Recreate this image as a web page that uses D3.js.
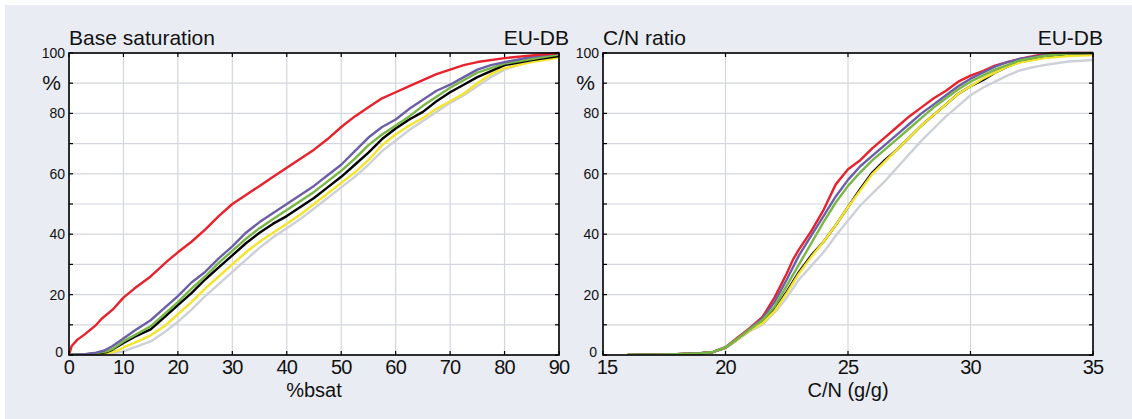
<!DOCTYPE html>
<html>
<head>
<meta charset="utf-8">
<script src="https://cdn.jsdelivr.net/npm/d3@7"></script>
<style>
  html, body { margin: 0; padding: 0; background: #ffffff; }
  svg { display: block; }
  text { font-family: "Liberation Sans", Arial, Helvetica, sans-serif; fill: #111; }
</style>
</head>
<body>
<svg id="chart" width="1132" height="419"></svg>
<script>
// Cumulative distributions (percent of sites below value), EU-DB

// --- Base saturation panel ---
const bsatXTicks = [0, 10, 20, 30, 40, 50, 60, 70, 80, 90];
const bsatRed = [[0,0],[0.5,3],[1.5,5],[3,7],[5,10],[6,12],[8,15],[10,19],[12,22],[15,26],[18,31],[20,34],[22.5,37.5],[25,41.5],[27.5,46],[30,50],[32.5,53],[35,56],[37.5,59],[40,62],[42.5,65],[45,68],[47.5,71.5],[50,75.5],[52.5,79],[55,82],[57.5,85],[60,87],[62.5,89],[65,91],[67.5,93],[70,94.5],[72.5,96],[75,97],[80,98.3],[85,99.2],[90,100]];
const bsatPurple = [[0,0],[3,0.3],[5,0.8],[6.5,1.5],[8,3],[10,5.5],[12,8],[15,11.5],[17.5,15.5],[20,19.5],[22.5,24],[25,27.5],[27.5,32],[30,36],[32.5,40.5],[35,44],[37.5,47],[40,50],[42.5,53],[45,56],[47.5,59.5],[50,63],[52.5,67.5],[55,72],[57.5,75.5],[60,78],[62.5,81.5],[65,84.5],[67.5,87.5],[70,89.5],[72.5,92],[75,94.5],[77.5,96],[80,97],[85,98.7],[90,100]];
const bsatGreen = [[0,0],[3,0.3],[5,0.6],[7,1.2],[8,2],[10,4.5],[12,6.5],[15,9.5],[17.5,13.5],[20,17.5],[22.5,22],[25,26],[27.5,30.5],[30,34.5],[32.5,38.5],[35,42],[37.5,45],[40,48],[42.5,51],[45,54],[47.5,57.5],[50,61],[52.5,65],[55,69.5],[57.5,73],[60,76],[62.5,79],[65,82.5],[67.5,85.5],[70,88.5],[72.5,91],[75,93.5],[77.5,95],[80,96.5],[85,98],[90,99.5]];
const bsatBlack = [[0,0],[3,0.2],[5,0.5],[7,1],[8,1.8],[10,4],[12,6],[15,8.5],[17.5,12.5],[20,16.5],[22.5,20.5],[25,25],[27.5,29],[30,33],[32.5,37],[35,40.5],[37.5,43.5],[40,46],[42.5,49],[45,52],[47.5,55.5],[50,59],[52.5,63],[55,67],[57.5,71.5],[60,75],[62.5,78],[65,80.5],[67.5,84],[70,87],[72.5,89.5],[75,92],[77.5,94],[80,96],[85,97.7],[90,99]];
const bsatYellow = [[0,0],[3,0.1],[5,0.3],[7,0.6],[9,1.5],[10,2.5],[12,4],[15,6.5],[17.5,9.5],[20,13.5],[22.5,17.5],[25,22],[27.5,26],[30,30],[32.5,34],[35,37.5],[37.5,40.5],[40,43.5],[42.5,46.5],[45,50],[47.5,53.5],[50,57],[52.5,60.5],[55,64.5],[57.5,69.5],[60,73],[62.5,76],[65,78.5],[67.5,81.5],[70,84],[72.5,86.5],[75,90],[77.5,93],[80,95],[85,97],[90,98.5]];
const bsatGray = [[0,0],[5,0.1],[8,0.5],[10,1.2],[12,2.5],[15,4.5],[17.5,7.5],[20,11],[22.5,15],[25,19.5],[27.5,23.5],[30,27.5],[32.5,31.5],[35,35.5],[37.5,39],[40,42],[42.5,45],[45,48.5],[47.5,52],[50,55.5],[52.5,59],[55,63],[57.5,67.5],[60,71],[62.5,74.5],[65,77.5],[67.5,80.5],[70,83.5],[72.5,86],[75,89],[77.5,92],[80,94.5],[85,97.5],[90,99]];

// --- C/N ratio panel ---
const cnXTicks = [15, 20, 25, 30, 35];
const cnRed = [[16,0],[17,0.1],[18,0.3],[19,0.6],[19.5,1],[20,2.6],[20.5,5.8],[21,9],[21.5,12.5],[22,19],[22.5,27],[22.75,31.5],[23,35],[23.5,41],[24,48],[24.5,56.5],[25,61.5],[25.5,64.5],[26,68.5],[26.5,72],[27,75.5],[27.5,79],[28,82],[28.5,85],[29,87.5],[29.5,90.5],[30,92.5],[30.5,94],[31,95.8],[31.5,97],[32,98],[32.6,99],[33.3,100],[35,100]];
const cnPurple = [[16,0],[17,0.1],[18,0.3],[19,0.6],[19.5,1],[20,2.5],[20.5,5.5],[21,8.7],[21.5,12],[22,17.5],[22.5,25],[23,33],[23.5,39.5],[24,46],[24.5,52.5],[25,58],[25.5,62.5],[26,66],[26.5,69.5],[27,73],[27.5,76.5],[28,80],[28.5,83],[29,86],[29.5,89],[30,91.5],[30.5,93.5],[31,95.5],[31.5,97],[32,98],[33,99.3],[34,100],[35,100]];
const cnGreen = [[16,0],[17,0.1],[18,0.3],[19,0.6],[19.5,1],[20,2.5],[20.5,5.5],[21,8.5],[21.5,11.5],[22,16],[22.5,23],[23,30],[23.5,37],[24,44],[24.5,50.5],[25,56],[25.5,60.5],[26,64.5],[26.5,68],[27,71.5],[27.5,75],[28,78.5],[28.5,82],[29,85],[29.5,88],[30,90.5],[30.5,92.5],[31,94.5],[31.5,96],[32,97.5],[33,99],[34,99.8],[35,100]];
const cnBlack = [[16,0],[17,0.1],[18,0.3],[19,0.6],[19.5,1],[20,2.4],[20.5,5.3],[21,8.3],[21.5,11],[22,15],[22.5,21],[23,27.5],[23.5,33],[24,37.5],[24.5,43],[25,49],[25.5,55],[26,60.5],[26.5,64.5],[27,68],[27.5,72],[28,76],[28.5,79.5],[29,83],[29.5,86.5],[30,89],[30.5,91],[31,93.5],[31.5,95.5],[32,97],[33,98.5],[34,99.3],[35,99.6]];
const cnYellow = [[16,0],[17,0.1],[18,0.3],[19,0.6],[19.5,1],[20,2.4],[20.5,5.2],[21,8.2],[21.5,10.5],[22,14.5],[22.5,20.5],[23,27],[23.5,32.5],[24,37.5],[24.5,43],[25,49],[25.5,54.5],[26,60],[26.5,64],[27,68],[27.5,72],[28,76],[28.5,79.5],[29,83],[29.5,86.5],[30,89],[30.5,91.5],[31,93.5],[31.5,95.5],[32,96.8],[33,98.3],[34,99],[35,99.3]];
const cnGray = [[16,0],[17,0.1],[18,0.3],[19,0.6],[19.5,1],[20,2.3],[20.5,5],[21,8],[21.5,10],[22,14],[22.5,19],[23,25],[23.5,29.5],[24,34],[24.5,39.5],[25,44.5],[25.5,49.5],[26,53.5],[26.5,57.5],[27,62],[27.5,66.5],[28,71],[28.5,75],[29,79],[29.5,82.5],[30,86],[30.5,88.5],[31,90.5],[31.5,92.5],[32,94.2],[32.5,95.2],[33,96],[34,97.2],[35,97.7]];

const yTickLabels = [0, 20, 40, 60, 80, 100];
const yGrid = [0, 10, 20, 30, 40, 50, 60, 70, 80, 90, 100];

const colors = {
  gray: "#cdd0d7",
  black: "#000000",
  yellow: "#f4e52c",
  red: "#e8222d",
  purple: "#6b5fa8",
  green: "#78b646"
};

const svg = d3.select("#chart");

// panel background
svg.append("rect")
  .attr("x", 5).attr("y", 5)
  .attr("width", 1127).attr("height", 414)
  .attr("fill", "#e9ecf3");

function drawPanel(opt) {
  const m = { left: opt.left, top: 53, width: 490, height: 302 };
  const g = svg.append("g").attr("transform", `translate(${m.left},${m.top})`);

  const x = d3.scaleLinear().domain(opt.xDomain).range([0, m.width]);
  const y = d3.scaleLinear().domain([0, 100]).range([m.height, 0]);

  g.append("rect").attr("width", m.width).attr("height", m.height).attr("fill", "#fff");

  // grid
  g.append("g").selectAll("line").data(opt.xTicks).join("line")
    .attr("x1", d => x(d)).attr("x2", d => x(d))
    .attr("y1", 0).attr("y2", m.height)
    .attr("stroke", "#d3d6dd").attr("stroke-width", 1.2);
  g.append("g").selectAll("line").data(yGrid).join("line")
    .attr("x1", 0).attr("x2", m.width)
    .attr("y1", d => y(d)).attr("y2", d => y(d))
    .attr("stroke", "#d3d6dd").attr("stroke-width", 1.2);

  // curves
  const clipId = "clip" + opt.left;
  g.append("clipPath").attr("id", clipId)
    .append("rect").attr("x", 0).attr("y", -2).attr("width", m.width).attr("height", m.height + 2);
  const line = d3.line().x(d => x(d[0])).y(d => y(d[1]));
  const lines = g.append("g").attr("clip-path", `url(#${clipId})`);
  opt.series.forEach(s => {
    lines.append("path")
      .datum(s.data)
      .attr("d", line)
      .attr("fill", "none")
      .attr("stroke", s.color)
      .attr("stroke-width", 2.4)
      .attr("stroke-linejoin", "round");
  });

  // frame
  g.append("rect").attr("width", m.width).attr("height", m.height)
    .attr("fill", "none").attr("stroke", "#000").attr("stroke-width", 1.6);

  // inward tick marks on all four sides
  const tk = 4;
  const ticks = g.append("g").attr("stroke", "#000").attr("stroke-width", 1.2);
  yGrid.forEach(d => {
    ticks.append("line").attr("x1", 0).attr("x2", tk).attr("y1", y(d)).attr("y2", y(d));
    ticks.append("line").attr("x1", m.width - tk).attr("x2", m.width).attr("y1", y(d)).attr("y2", y(d));
  });
  opt.xTicks.forEach(d => {
    ticks.append("line").attr("x1", x(d)).attr("x2", x(d)).attr("y1", 0).attr("y2", tk);
    ticks.append("line").attr("x1", x(d)).attr("x2", x(d)).attr("y1", m.height - tk).attr("y2", m.height);
  });

  // y tick labels
  g.append("g").selectAll("text").data(yTickLabels).join("text")
    .attr("x", d => d === 0 ? -6 : -4)
    .attr("y", d => y(d) + (d === 0 ? 2 : 5))
    .attr("text-anchor", "end")
    .attr("font-size", 14)
    .text(d => d);
  g.append("text")
    .attr("x", -8).attr("y", y(90) + 7)
    .attr("text-anchor", "end")
    .attr("font-size", 21)
    .text("%");

  // x tick labels
  g.append("g").selectAll("text").data(opt.xTicks).join("text")
    .attr("x", (d, i) => x(d) + (opt.firstShift && i === 0 ? opt.firstShift : 0))
    .attr("y", m.height + 19)
    .attr("text-anchor", "middle")
    .attr("font-size", 20)
    .attr("letter-spacing", -0.8)
    .text(d => d);

  // axis title
  g.append("text")
    .attr("x", m.width / 2).attr("y", m.height + 42)
    .attr("text-anchor", "middle")
    .attr("font-size", 20)
    .text(opt.xTitle);

  // panel titles
  g.append("text")
    .attr("x", 0).attr("y", -8)
    .attr("font-size", 21)
    .text(opt.title);
  g.append("text")
    .attr("x", m.width + 10).attr("y", -8)
    .attr("text-anchor", "end")
    .attr("font-size", 21)
    .text("EU-DB");
}

drawPanel({
  left: 69,
  xDomain: [0, 90],
  xTicks: bsatXTicks,
  title: "Base saturation",
  xTitle: "%bsat",
  series: [
    { data: bsatGray, color: colors.gray },
    { data: bsatYellow, color: colors.yellow },
    { data: bsatBlack, color: colors.black },
    { data: bsatGreen, color: colors.green },
    { data: bsatPurple, color: colors.purple },
    { data: bsatRed, color: colors.red }
  ]
});

drawPanel({
  left: 603,
  xDomain: [15, 35],
  xTicks: cnXTicks,
  firstShift: 4,
  title: "C/N ratio",
  xTitle: "C/N (g/g)",
  series: [
    { data: cnGray, color: colors.gray },
    { data: cnBlack, color: colors.black },
    { data: cnYellow, color: colors.yellow },
    { data: cnRed, color: colors.red },
    { data: cnPurple, color: colors.purple },
    { data: cnGreen, color: colors.green }
  ]
});
</script>
</body>
</html>
